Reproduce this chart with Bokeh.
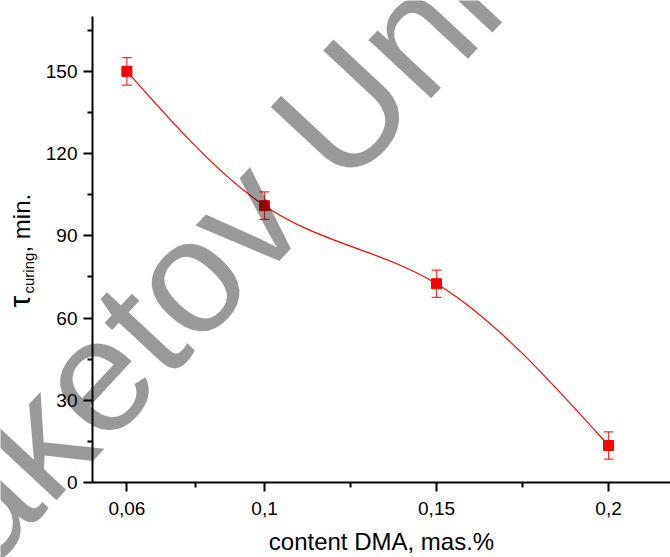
import numpy as np
from bokeh.plotting import figure
from bokeh.models import (ColumnDataSource, Whisker, TeeHead, FixedTicker,
                          CustomJSTickFormatter, Label, Range1d, GridBox)
from bokeh.embed import file_html
from bokeh.resources import INLINE

# ---------------- data ----------------
content_dma = [0.06, 0.10, 0.15, 0.20]
curing_time = [150.0, 101.0, 72.5, 13.5]
curing_err = [5.0, 5.0, 5.0, 5.0]

x_major_ticks = [0.06, 0.1, 0.15, 0.2]
x_minor_ticks = [0.08, 0.125, 0.175]
y_major_ticks = [0, 30, 60, 90, 120, 150]
y_minor_ticks = [15, 45, 75, 105, 135, 165]

x_label = "content DMA, mas.%"
y_label_main = "τ"
y_label_sub = "curing"
y_label_tail = ", min."
watermark_text = "Saketov University"

FONT = "Liberation Sans"
W, H = 670, 557


# natural cubic spline through the points -> slopes at the knots
def natural_spline_slopes(xv, yv):
    xv = np.asarray(xv, float)
    yv = np.asarray(yv, float)
    n = len(xv)
    h = np.diff(xv)
    d = np.diff(yv) / h
    A = np.zeros((n, n))
    b = np.zeros(n)
    A[0, 0] = 1.0
    A[-1, -1] = 1.0
    for i in range(1, n - 1):
        A[i, i - 1] = h[i - 1]
        A[i, i] = 2 * (h[i - 1] + h[i])
        A[i, i + 1] = h[i]
        b[i] = 6 * (d[i] - d[i - 1])
    M = np.linalg.solve(A, b)
    s0 = d - h * (2 * M[:-1] + M[1:]) / 6
    s1 = d + h * (M[:-1] + 2 * M[1:]) / 6
    return xv, yv, h, s0, s1


xs, ys, h, s0, s1 = natural_spline_slopes(content_dma, curing_time)
curve = ColumnDataSource(dict(
    x0=xs[:-1], y0=ys[:-1], x1=xs[1:], y1=ys[1:],
    cx0=xs[:-1] + h / 3, cy0=ys[:-1] + s0 * h / 3,
    cx1=xs[1:] - h / 3, cy1=ys[1:] - s1 * h / 3,
))

pts = ColumnDataSource(dict(
    x=content_dma,
    y=curing_time,
    upper=[v + e for v, e in zip(curing_time, curing_err)],
    lower=[v - e for v, e in zip(curing_time, curing_err)],
))

# ---------------- main figure ----------------
p = figure(width=W, height=H, output_backend="svg", toolbar_location=None,
           x_range=Range1d(0.05, 0.218), y_range=Range1d(0, 170),
           min_border_left=92, min_border_right=0, min_border_top=16,
           min_border_bottom=73)
p.outline_line_color = None
p.xgrid.visible = False
p.ygrid.visible = False
p.background_fill_color = "white"
p.border_fill_color = "white"

p.bezier(x0="x0", y0="y0", x1="x1", y1="y1", cx0="cx0", cy0="cy0",
         cx1="cx1", cy1="cy1", source=curve, line_color="red", line_width=1.2)

whisk = Whisker(source=pts, base="x", upper="upper", lower="lower",
                line_color="red", line_alpha=0.8, line_width=1.2,
                upper_head=TeeHead(size=10, line_color="red", line_alpha=0.8, line_width=1.2),
                lower_head=TeeHead(size=10, line_color="red", line_alpha=0.8, line_width=1.2))
p.add_layout(whisk)

p.scatter("x", "y", source=pts, marker="square", size=10,
          fill_color="red", line_color="red")

p.xaxis.ticker = FixedTicker(ticks=x_major_ticks, minor_ticks=x_minor_ticks)
p.yaxis.ticker = FixedTicker(ticks=y_major_ticks, minor_ticks=y_minor_ticks)
p.xaxis.formatter = CustomJSTickFormatter(code="return tick.toString().replace('.', ',');")

for ax in (p.xaxis[0], p.yaxis[0]):
    ax.axis_line_color = "black"
    ax.axis_line_width = 2
    ax.major_tick_line_color = "black"
    ax.major_tick_line_width = 2
    ax.minor_tick_line_color = "black"
    ax.minor_tick_line_width = 2
    ax.major_tick_in = 0
    ax.major_tick_out = 9
    ax.minor_tick_in = 0
    ax.minor_tick_out = 5
    ax.major_label_text_font = FONT
    ax.major_label_text_font_size = "19px"
    ax.major_label_text_color = "black"

p.xaxis.major_label_standoff = 10
p.yaxis.major_label_standoff = 6
p.xaxis.axis_label = x_label
p.xaxis.axis_label_text_font = FONT
p.xaxis.axis_label_text_font_size = "24px"
p.xaxis.axis_label_text_font_style = "normal"
p.xaxis.axis_label_text_color = "black"
p.xaxis.axis_label_standoff = 10

# ---------------- transparent overlay: y title + watermark ----------------
ov = figure(width=W, height=H, output_backend="svg", toolbar_location=None,
            x_range=Range1d(0, W), y_range=Range1d(0, H),
            x_axis_location=None, y_axis_location=None,
            min_border=0)
ov.outline_line_color = None
ov.xgrid.visible = False
ov.ygrid.visible = False
ov.background_fill_alpha = 0
ov.border_fill_alpha = 0

for fig in (p, ov):
    if "frame_align" in fig.properties():
        fig.frame_align = False

lab_kw = dict(x_units="screen", y_units="screen", angle=90, angle_units="deg",
              text_font=FONT, text_color="black", text_align="left",
              text_baseline="alphabetic")
ov.add_layout(Label(x=19, y=250, text=y_label_main, text_font_size="30px", **lab_kw))
ov.add_layout(Label(x=28, y=264, text=y_label_sub, text_font_size="15px", **lab_kw))
ov.add_layout(Label(x=21, y=305, text=y_label_tail, text_font_size="24px", **lab_kw))

wm = Label(x=-128, y=-57, x_units="screen", y_units="screen", text=watermark_text,
           angle=47, angle_units="deg", text_font=FONT, text_font_size="162px",
           text_color="black", text_alpha=0.4, text_align="left",
           text_baseline="alphabetic", level="overlay")
ov.add_layout(wm)

layout = GridBox(children=[(p, 0, 0), (ov, 0, 0)])

open("out.html", "w").write(file_html(layout, INLINE))
